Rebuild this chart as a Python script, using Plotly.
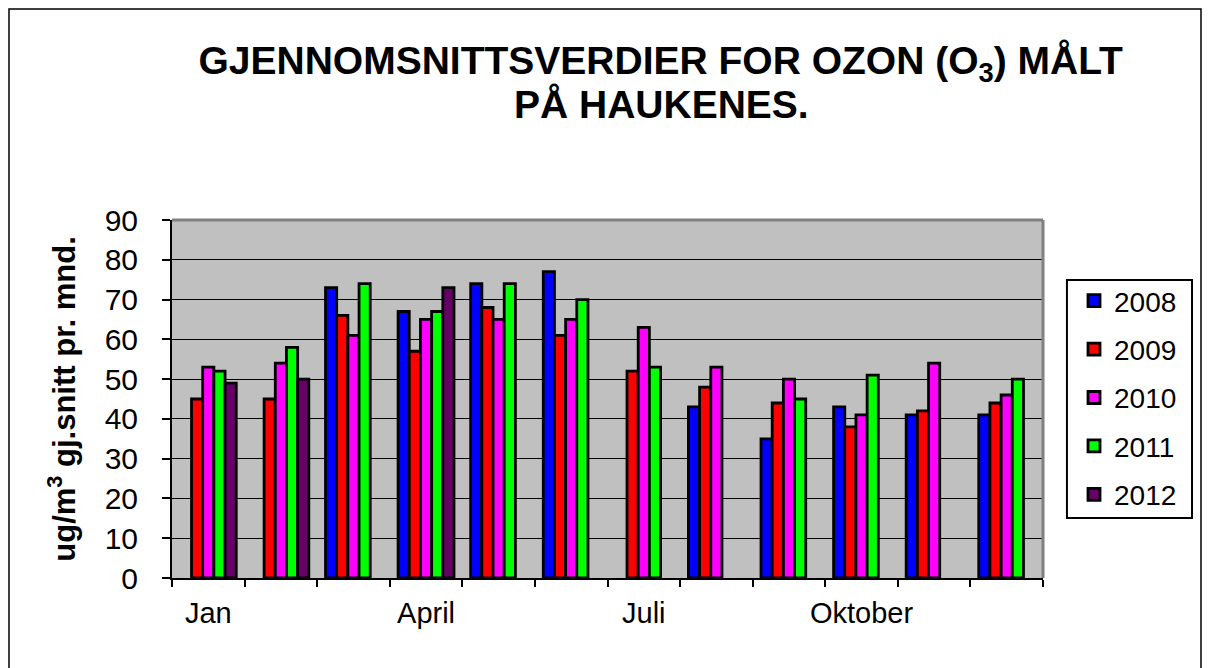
import plotly.graph_objects as go

# month index 1..12, only some months carry a label on the axis
months = list(range(1, 13))
tick_months = [1, 4, 7, 10]
tick_labels = ["Jan", "April", "Juli", "Oktober"]

years = ["2008", "2009", "2010", "2011", "2012"]
colors = ["#0000FF", "#FF0000", "#FF00FF", "#00FF00", "#660066"]

# monthly means, None where no measurement
ozone_2008 = [None, None, 73, 67, 74, 77, None, 43, 35, 43, 41, 41]
ozone_2009 = [45, 45, 66, 57, 68, 61, 52, 48, 44, 38, 42, 44]
ozone_2010 = [53, 54, 61, 65, 65, 65, 63, 53, 50, 41, 54, 46]
ozone_2011 = [52, 58, 74, 67, 74, 70, 53, None, 45, 51, None, 50]
ozone_2012 = [49, 50, None, 73, None, None, None, None, None, None, None, None]

series = [ozone_2008, ozone_2009, ozone_2010, ozone_2011, ozone_2012]

fig = go.Figure()
for year, vals, col in zip(years, series, colors):
    fig.add_trace(go.Bar(
        name=year,
        x=months,
        y=vals,
        legendgroup=year,
        marker=dict(color=col, line=dict(color="black", width=2.8)),
    ))

font = "Liberation Sans, Arial, sans-serif"

# page is drawn with an 8px body margin, so margins are shifted by that
fig.update_layout(
    width=1211,
    height=668,
    barmode="group",
    bargap=0.23,
    bargroupgap=0,
    paper_bgcolor="white",
    plot_bgcolor="#C0C0C0",
    margin=dict(l=164, r=176, t=212, b=98),
    font=dict(family=font, size=29, color="black"),
    title=dict(
        text="<b>GJENNOMSNITTSVERDIER FOR OZON (O<sub>3</sub>) MÅLT</b>",
        x=0.539, xanchor="center",
        y=1 - 52 / 668, yanchor="middle",
        font=dict(family=font, size=39, color="black"),
    ),
    legend=dict(
        x=1.0356, xanchor="left",
        y=0.8436, yanchor="top",
        borderwidth=0,
        bgcolor="rgba(0,0,0,0)",
        font=dict(family=font, size=28),
        tracegroupgap=9,
    ),
    showlegend=True,
)

# second title line, set closer than plotly's own line spacing
fig.add_annotation(
    text="<b>PÅ HAUKENES.</b>",
    xref="paper", yref="paper",
    x=(653 - 164) / 871, y=(570 - 96) / 358,
    xanchor="center", yanchor="middle",
    showarrow=False,
    font=dict(family=font, size=39, color="black"),
)

fig.update_xaxes(
    range=[0.5, 12.5],
    tickvals=tick_months,
    ticktext=tick_labels,
    ticks="",
    ticklabelstandoff=8,
    showgrid=False,
    zeroline=False,
    showline=True, linecolor="black", linewidth=2,
    mirror=False,
    tickfont=dict(size=29),
    minor=dict(ticks="outside", tick0=0.5, dtick=1, ticklen=7,
               tickcolor="black", tickwidth=2, showgrid=False),
)

fig.update_yaxes(
    range=[0, 90],
    dtick=10,
    ticks="outside", ticklen=8, tickcolor="black", tickwidth=2,
    ticklabelstandoff=18,
    showgrid=True, gridcolor="black", gridwidth=1,
    zeroline=False,
    showline=True, linecolor="black", linewidth=2,
    tickfont=dict(size=30),
    title=dict(text="<b>ug/m<sup>3</sup> gj.snitt pr. mnd.</b>", font=dict(size=31), standoff=20),
)

# grey frame on top and right of plot area
fig.add_shape(type="line", xref="paper", yref="paper", x0=0, x1=1, y0=1, y1=1,
              line=dict(color="#808080", width=3))
fig.add_shape(type="line", xref="paper", yref="paper", x0=1, x1=1, y0=0, y1=1,
              line=dict(color="#808080", width=3))

# legend frame
fig.add_shape(type="rect", xref="paper", yref="paper",
              x0=1.0275, x1=1.1711, y0=0.1676, y1=0.8324,
              line=dict(color="black", width=2), fillcolor="white", layer="below")

# outer chart border
fig.add_shape(type="rect", xref="paper", yref="paper",
              x0=(1 - 164) / 871, x1=(1193 - 164) / 871,
              y0=(570 - 680) / 358, y1=(570 - 1) / 358,
              line=dict(color="black", width=1.5), layer="below")

fig.write_html("out.html")
